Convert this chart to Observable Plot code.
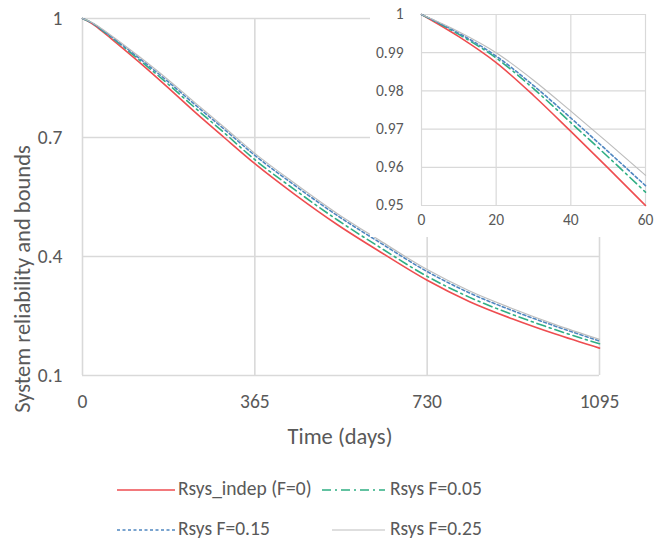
<!DOCTYPE html>
<html>
<head>
<meta charset="utf-8">
<script src="https://cdn.jsdelivr.net/npm/d3@7"></script>
<script src="https://cdn.jsdelivr.net/npm/@observablehq/plot@0.6"></script>
<style>
  html, body { margin: 0; padding: 0; background: #fff; }
  #wrap { position: relative; width: 654px; height: 548px; overflow: hidden; font-family: Carlito, Calibri, Lato, sans-serif; color: #595959; }
  #main { position: absolute; left: 0; top: 0; }
  #inset { position: absolute; left: 370px; top: 0; background: #fff; }
  .ttl { position: absolute; font-size: 22.5px; color: #595959; white-space: nowrap; }
  .leg { position: absolute; font-size: 19.5px; color: #595959; white-space: nowrap; line-height: 1; }
  .legsw { position: absolute; }
</style>
</head>
<body>
<div id="wrap">
  <div id="main"></div>
  <div id="inset"></div>
</div>
<script>
// Time (days)
const times = [0, 10, 20, 30, 40, 50, 60, 120, 180, 240, 300, 365, 450, 540, 630, 730, 820, 910, 1000, 1095];
// Series values
const rIndep = [1, 0.9942, 0.9874, 0.9788, 0.9694, 0.9598, 0.9500, 0.890, 0.827, 0.762, 0.700, 0.634, 0.556, 0.480, 0.412, 0.340, 0.286, 0.243, 0.205, 0.169];
const rF005  = [1, 0.9948, 0.9886, 0.9806, 0.9717, 0.9627, 0.9535, 0.896, 0.836, 0.773, 0.712, 0.644, 0.568, 0.492, 0.423, 0.350, 0.297, 0.254, 0.216, 0.180];
const rF015  = [1, 0.9951, 0.9891, 0.9814, 0.9729, 0.9641, 0.9552, 0.900, 0.842, 0.781, 0.721, 0.655, 0.579, 0.503, 0.435, 0.362, 0.308, 0.264, 0.225, 0.187];
const rF025  = [1, 0.9955, 0.9900, 0.9828, 0.9747, 0.9664, 0.9579, 0.904, 0.847, 0.786, 0.726, 0.660, 0.584, 0.508, 0.440, 0.367, 0.313, 0.269, 0.229, 0.191];
const seriesNames = ["Rsys_indep (F=0)", "Rsys F=0.05", "Rsys F=0.15", "Rsys F=0.25"];
// Tick labels
const mainXTicks = [0, 365, 730, 1095];
const mainYTicks = [0.1, 0.4, 0.7, 1];
const insetXTicks = [0, 20, 40, 60];
const insetYTicks = [0.95, 0.96, 0.97, 0.98, 0.99, 1];
const xTitle = "Time (days)";
const yTitle = "System reliability and bounds";

const seriesValues = [rIndep, rF005, rF015, rF025];
const styles = [
  {stroke: "#ee4d50", dash: null, width: 1.6},
  {stroke: "#2fae83", dash: "9,4,2,4", width: 1.6},
  {stroke: "#4f86c0", dash: "3,2.5", width: 1.6},
  {stroke: "#bdbdbd", dash: null, width: 1.2}
];
const data = seriesValues.map(vals => times.map((t, i) => ({t, v: vals[i]})));

const font = "Carlito, Calibri, Lato, sans-serif";
const fmt = d3.format("~g");

function lineMarks(filter) {
  return data.map((d, k) => Plot.line(filter ? d.filter(filter) : d, {
    x: "t", y: "v", stroke: styles[k].stroke, strokeWidth: styles[k].width,
    strokeDasharray: styles[k].dash, curve: "monotone-x"
  }));
}

const main = Plot.plot({
  width: 654, height: 460,
  marginLeft: 82, marginRight: 55, marginTop: 18, marginBottom: 85,
  style: {fontFamily: font, color: "#595959", background: "transparent"},
  x: {domain: [0, 1095]},
  y: {domain: [0.1, 1]},
  marks: [
    Plot.gridX(mainXTicks, {stroke: "#d9d9d9", strokeOpacity: 1, strokeWidth: 1.6}),
    Plot.gridY(mainYTicks, {stroke: "#d9d9d9", strokeOpacity: 1, strokeWidth: 1.6}),
    Plot.axisX(mainXTicks, {tickSize: 0, tickPadding: 19, fontSize: 19.5, fill: "#595959", label: null, tickFormat: fmt}),
    Plot.axisY(mainYTicks, {tickSize: 0, tickPadding: 20, fontSize: 19.5, fill: "#595959", label: null, tickFormat: fmt}),
    ...lineMarks(null)
  ]
});
document.getElementById("main").appendChild(main);

const inset = Plot.plot({
  width: 284, height: 237,
  marginLeft: 51, marginRight: 9, marginTop: 14, marginBottom: 32,
  style: {fontFamily: font, color: "#595959", background: "#fff"},
  x: {domain: [0, 60]},
  y: {domain: [0.95, 1]},
  marks: [
    Plot.gridX(insetXTicks, {stroke: "#d9d9d9", strokeOpacity: 1, strokeWidth: 1.2}),
    Plot.gridY(insetYTicks, {stroke: "#d9d9d9", strokeOpacity: 1, strokeWidth: 1.2}),
    Plot.axisX(insetXTicks, {tickSize: 0, tickPadding: 8, fontSize: 15.5, fill: "#595959", label: null, tickFormat: fmt}),
    Plot.axisY(insetYTicks, {tickSize: 0, tickPadding: 18, fontSize: 15.5, fill: "#595959", label: null, tickFormat: fmt}),
    ...lineMarks(d => d.t <= 60)
  ]
});
document.getElementById("inset").appendChild(inset);

const wrap = document.getElementById("wrap");
// axis titles
const xt = document.createElement("div");
xt.className = "ttl"; xt.textContent = xTitle;
xt.style.left = "340px"; xt.style.top = "436px"; xt.style.transform = "translate(-50%, -50%)";
wrap.appendChild(xt);
const yt = document.createElement("div");
yt.className = "ttl"; yt.textContent = yTitle;
yt.style.left = "22px"; yt.style.top = "279px"; yt.style.transform = "translate(-50%, -50%) rotate(-90deg)";
wrap.appendChild(yt);

// legend
const legPos = [
  {x1: 117, x2: 175, tx: 178, y: 490},
  {x1: 322, x2: 385, tx: 390, y: 490},
  {x1: 117, x2: 175, tx: 178, y: 530},
  {x1: 332, x2: 385, tx: 390, y: 530}
];
seriesNames.forEach((name, k) => {
  const p = legPos[k];
  const ns = "http://www.w3.org/2000/svg";
  const svg = document.createElementNS(ns, "svg");
  svg.setAttribute("class", "legsw");
  svg.setAttribute("width", p.x2 - p.x1);
  svg.setAttribute("height", 6);
  svg.style.left = p.x1 + "px";
  svg.style.top = (p.y - 3) + "px";
  const ln = document.createElementNS(ns, "line");
  ln.setAttribute("x1", 0); ln.setAttribute("x2", p.x2 - p.x1);
  ln.setAttribute("y1", 3); ln.setAttribute("y2", 3);
  ln.setAttribute("stroke", styles[k].stroke);
  ln.setAttribute("stroke-width", styles[k].width);
  if (styles[k].dash) ln.setAttribute("stroke-dasharray", styles[k].dash);
  svg.appendChild(ln);
  wrap.appendChild(svg);
  const tx = document.createElement("div");
  tx.className = "leg"; tx.textContent = name;
  tx.style.left = p.tx + "px"; tx.style.top = p.y + "px";
  tx.style.transform = "translateY(-55%)";
  wrap.appendChild(tx);
});
</script>
</body>
</html>
